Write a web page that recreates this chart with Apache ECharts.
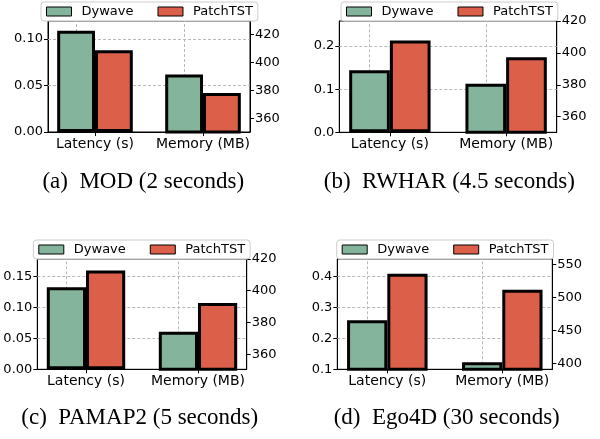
<!DOCTYPE html>
<html><head><meta charset="utf-8">
<script src="https://cdn.jsdelivr.net/npm/echarts@6/dist/echarts.min.js"></script>
<style>html,body{margin:0;padding:0;background:#fff}#c{width:600px;height:439px}</style>
</head><body><div id="c"></div>
<script>
const categories = ['Latency (s)', 'Memory (MB)'];
const methods = ['Dywave', 'PatchTST'];
const captions = ['(a)  MOD (2 seconds)', '(b)  RWHAR (4.5 seconds)', '(c)  PAMAP2 (5 seconds)', '(d)  Ego4D (30 seconds)'];

// [latency (s), memory (MB)]
const modDywave = [0.109, 391.5];
const modPatchTST = [0.088, 378.1];
const rwharDywave = [0.144, 380.6];
const rwharPatchTST = [0.213, 397.3];
const pamapDywave = [0.133, 374.2];
const pamapPatchTST = [0.160, 392.3];
const egoDywave = [0.259, 401.5];
const egoPatchTST = [0.409, 512];

// tick labels
const modLatencyTicks = [0, 0.05, 0.10];
const modMemoryTicks = [360, 380, 400, 420];
const rwharLatencyTicks = [0, 0.1, 0.2];
const rwharMemoryTicks = [360, 380, 400, 420];
const pamapLatencyTicks = [0, 0.05, 0.10, 0.15];
const pamapMemoryTicks = [360, 380, 400, 420];
const egoLatencyTicks = [0.1, 0.2, 0.3, 0.4];
const egoMemoryTicks = [400, 450, 500, 550];

const GREEN = '#84b59c';
const RED = '#dc5f49';
const FONT = 'DejaVu Sans';

const panels = [
  {dy: modDywave, pt: modPatchTST, lt: modLatencyTicks, mt: modMemoryTicks, dec: 2,
   lRange: [0, 0.1195], rRange: [350.2, 429.8],
   grid: {left: 48, top: 21, width: 202, height: 111}, legend: {left: 41, top: 2}, cap: [143.3, 182]},
  {dy: rwharDywave, pt: rwharPatchTST, lt: rwharLatencyTicks, mt: rwharMemoryTicks, dec: 1,
   lRange: [0, 0.258], rRange: [350.2, 420],
   grid: {left: 339.3, top: 21, width: 217.4, height: 111.3}, legend: {left: 341, top: 2}, cap: [449.3, 182]},
  {dy: pamapDywave, pt: pamapPatchTST, lt: pamapLatencyTicks, mt: pamapMemoryTicks, dec: 2,
   lRange: [0, 0.1786], rRange: [350.5, 420],
   grid: {left: 37.3, top: 259, width: 209.4, height: 110.3}, legend: {left: 33.3, top: 240}, cap: [139.7, 417.5]},
  {dy: egoDywave, pt: egoPatchTST, lt: egoLatencyTicks, mt: egoMemoryTicks, dec: 1,
   lRange: [0.1, 0.457], rRange: [390.9, 558.7],
   grid: {left: 337.3, top: 259, width: 215, height: 110.3}, legend: {left: 336.7, top: 240}, cap: [446.7, 417.5]}
];

const grids = [], xAxes = [], yAxes = [], series = [], legends = [], graphics = [];
const XMIN = -0.435, XMAX = 1.435;
const blackLine = {show: true, onZero: false, lineStyle: {color: '#000', width: 1}};
const gridLine = {type: [3, 2], color: '#b8b8b8', width: 1};

panels.forEach((p, i) => {
  grids.push(Object.assign({show: true, borderColor: '#000', borderWidth: 1, backgroundColor: 'transparent', containLabel: false}, p.grid));
  const bw = p.grid.width / (XMAX - XMIN) * 0.35;
  xAxes.push({
    type: 'value', gridIndex: i, min: XMIN, max: XMAX, position: 'bottom',
    axisLine: blackLine,
    axisTick: {show: true, customValues: [0, 1], length: 4, lineStyle: {color: '#000'}},
    axisLabel: {customValues: [0, 1], formatter: v => categories[Math.round(v)], fontFamily: FONT, fontSize: 14, color: '#000', margin: 5},
    splitLine: {show: false}
  });
  xAxes.push({type: 'value', gridIndex: i, min: XMIN, max: XMAX, show: false, splitLine: {show: false}});
  yAxes.push({
    type: 'value', gridIndex: i, position: 'left', min: p.lRange[0], max: p.lRange[1],
    axisLine: blackLine,
    axisTick: {show: true, customValues: p.lt, length: 4, lineStyle: {color: '#000'}},
    axisLabel: {customValues: p.lt, formatter: v => v.toFixed(p.dec), fontFamily: FONT, fontSize: 13, color: '#000', margin: 5},
    splitLine: {show: false}
  });
  yAxes.push({
    type: 'value', gridIndex: i, position: 'right', min: p.rRange[0], max: p.rRange[1],
    axisLine: blackLine,
    axisTick: {show: true, customValues: p.mt, length: 4, lineStyle: {color: '#000'}},
    axisLabel: {customValues: p.mt, formatter: v => String(v), fontFamily: FONT, fontSize: 13, color: '#000', margin: 5},
    splitLine: {show: false}
  });
  const common = {type: 'bar', barWidth: bw, barGap: '0%', clip: true, animation: false};
  const mlData = p.lt.filter(v => v > p.lRange[0]).map(v => ({yAxis: v})).concat([{xAxis: 0}, {xAxis: 1}]);
  const border = {borderColor: '#000', borderWidth: 3};
  series.push(Object.assign({}, common, {
    name: methods[0], xAxisIndex: 2 * i, yAxisIndex: 2 * i, data: [[0, p.dy[0]]],
    itemStyle: Object.assign({color: GREEN}, border),
    markLine: {z: 1, silent: true, animation: false, symbol: ['none', 'none'], label: {show: false}, lineStyle: gridLine, data: mlData}
  }));
  series.push(Object.assign({}, common, {
    name: methods[1], xAxisIndex: 2 * i, yAxisIndex: 2 * i, data: [[0, p.pt[0]]],
    itemStyle: Object.assign({color: RED}, border)
  }));
  series.push(Object.assign({}, common, {
    name: methods[0], xAxisIndex: 2 * i + 1, yAxisIndex: 2 * i + 1, data: [[1, p.dy[1]]],
    itemStyle: Object.assign({color: GREEN}, border)
  }));
  series.push(Object.assign({}, common, {
    name: methods[1], xAxisIndex: 2 * i + 1, yAxisIndex: 2 * i + 1, data: [[1, p.pt[1]]],
    itemStyle: Object.assign({color: RED}, border)
  }));
  legends.push({
    data: methods, left: p.legend.left, top: p.legend.top, orient: 'horizontal',
    padding: [3, 5, 3, 5], itemWidth: 25, itemHeight: 9, itemGap: 24, icon: 'rect',
    backgroundColor: 'rgba(255,255,255,0.85)', borderColor: '#cccccc', borderWidth: 1, borderRadius: 3,
    itemStyle: {borderColor: '#000', borderWidth: 1},
    formatter: '{n|{name}}',
    textStyle: {fontFamily: FONT, fontSize: 13, color: '#000',
      rich: {n: {fontFamily: FONT, fontSize: 13, color: '#000', padding: [0, 0, 0, 5]}}},
    selectedMode: false, z: 10
  });
  graphics.push({
    type: 'text', x: p.cap[0], y: p.cap[1],
    style: {text: captions[i], fontFamily: 'Liberation Serif', fontSize: 23, fill: '#000', textAlign: 'center', textVerticalAlign: 'middle'}
  });
});

const chart = echarts.init(document.getElementById('c'), null, {renderer: 'canvas'});
chart.setOption({
  animation: false,
  backgroundColor: '#fff',
  grid: grids, xAxis: xAxes, yAxis: yAxes, series: series, legend: legends,
  graphic: graphics
});
</script>
</body></html>
